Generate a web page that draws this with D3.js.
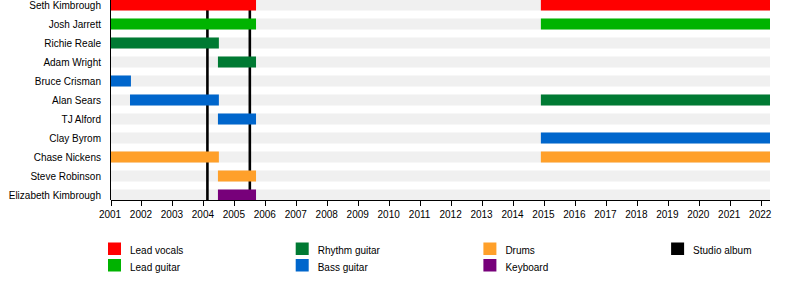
<!DOCTYPE html>
<meta charset="utf-8">
<style>
body { margin: 0; background: #fff; }
svg text { font-family: "Liberation Sans", Arial, sans-serif; fill: #000; }
.names text { font-size: 10px; }
.axis text { font-size: 10px; }
.axis line, .axis path { stroke: #000; shape-rendering: crispEdges; }
.legend text { font-size: 10px; }
</style>
<body>
<svg id="chart" width="800" height="290"></svg>
<script src="https://cdn.jsdelivr.net/npm/d3@7"></script>
<script>

// members top to bottom
var members = ["Seth Kimbrough", "Josh Jarrett", "Richie Reale", "Adam Wright", "Bruce Crisman",
  "Alan Sears", "TJ Alford", "Clay Byrom", "Chase Nickens", "Steve Robinson", "Elizabeth Kimbrough"];

// stints: member, role, from, to
var stintMember = ["Seth Kimbrough", "Seth Kimbrough", "Josh Jarrett", "Josh Jarrett", "Richie Reale",
  "Adam Wright", "Bruce Crisman", "Alan Sears", "Alan Sears", "TJ Alford", "Clay Byrom",
  "Chase Nickens", "Chase Nickens", "Steve Robinson", "Elizabeth Kimbrough"];
var stintRole = ["vocals", "vocals", "lead", "lead", "rhythm",
  "rhythm", "bass", "bass", "rhythm", "bass", "bass",
  "drums", "drums", "drums", "keys"];
var stintFrom = [2001, 2014.9, 2001, 2014.9, 2001, 2004.47, 2001, 2001.63, 2014.9, 2004.47, 2014.9, 2001, 2014.9, 2004.47, 2004.47];
var stintTo = [2005.7, 2022.3, 2005.7, 2022.3, 2004.5, 2005.7, 2001.66, 2004.5, 2022.3, 2005.7, 2022.3, 2004.5, 2022.3, 2005.7, 2005.7];

var roles = ["vocals", "lead", "rhythm", "bass", "drums", "keys", "album"];
var roleLabels = ["Lead vocals", "Lead guitar", "Rhythm guitar", "Bass guitar", "Drums", "Keyboard", "Studio album"];
var roleColors = ["#ff0000", "#00b300", "#007a33", "#0066cc", "#ffa02a", "#77007a", "#000000"];

var albums = [2004.13, 2005.5];
var years = d3.range(2001, 2023);
var timeStart = 2001, timeEnd = 2022.3;

var svg = d3.select("#chart");

var x = d3.scaleLinear().domain([timeStart, timeEnd]).range([110.5, 770]);
var y = d3.scalePoint().domain(members).range([5, 195]);
var color = d3.scaleOrdinal().domain(roles).range(roleColors);
var barH = 11;

// background stripes
svg.append("g").selectAll("rect")
  .data(members)
  .enter().append("rect")
  .attr("x", x(timeStart))
  .attr("width", x(timeEnd) - x(timeStart))
  .attr("y", function(d) { return y(d) - barH / 2; })
  .attr("height", barH)
  .attr("fill", "#f0f0f0");

// studio albums
svg.append("g").selectAll("line")
  .data(albums)
  .enter().append("line")
  .attr("x1", x).attr("x2", x)
  .attr("y1", 0).attr("y2", 200)
  .attr("stroke", "#000")
  .attr("stroke-width", 2.6);

var stints = stintMember.map(function(m, i) {
  return { member: m, role: stintRole[i], from: stintFrom[i], to: stintTo[i] };
});

svg.append("g").selectAll("rect")
  .data(stints)
  .enter().append("rect")
  .attr("x", function(d) { return x(d.from); })
  .attr("width", function(d) { return x(d.to) - x(d.from); })
  .attr("y", function(d) { return y(d.member) - barH / 2; })
  .attr("height", barH)
  .attr("fill", function(d) { return color(d.role); });

// names
svg.append("g").attr("class", "names").selectAll("text")
  .data(members)
  .enter().append("text")
  .attr("x", 101)
  .attr("y", function(d) { return y(d); })
  .attr("dy", "0.36em")
  .attr("text-anchor", "end")
  .text(function(d) { return d; });

// axes
svg.append("line")
  .attr("x1", 110.5).attr("x2", 110.5)
  .attr("y1", 0).attr("y2", 200)
  .attr("stroke", "#000");

var axis = svg.append("g")
  .attr("class", "axis")
  .attr("transform", "translate(0,200.5)")
  .call(d3.axisBottom(x).tickValues(years).tickFormat(d3.format("d")).tickSize(5).tickSizeOuter(0).tickPadding(5));
axis.select(".domain").attr("d", "M" + x(timeStart) + ",0H" + x(timeEnd));
axis.selectAll(".tick text").attr("dx", "-1");

// legend
var legend = svg.append("g").attr("class", "legend").selectAll("g")
  .data(roles)
  .enter().append("g")
  .attr("transform", function(d, i) {
    var col = i < 6 ? Math.floor(i / 2) : 3;
    var row = i < 6 ? i % 2 : 0;
    return "translate(" + (108 + col * 187.7) + "," + (242.5 + row * 16.5) + ")";
  });
legend.append("rect")
  .attr("width", 13).attr("height", 12.5)
  .attr("fill", color);
legend.append("text")
  .attr("x", 22).attr("y", 11.5)
  .text(function(d, i) { return roleLabels[i]; });

</script>
</body>
